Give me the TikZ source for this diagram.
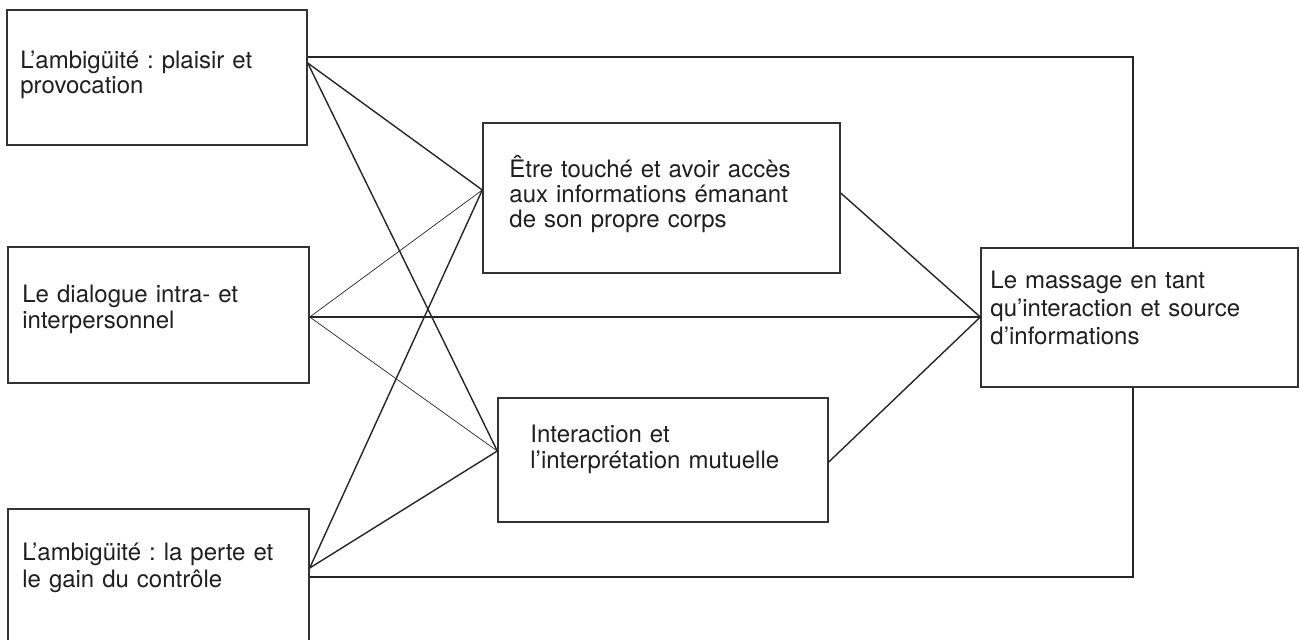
\documentclass[tikz,border=0pt]{standalone}
\usepackage{fontspec}
\setmainfont{TeX Gyre Heros}
\frenchspacing
\begin{document}
\frenchspacing
\begin{tikzpicture}[x=0.5pt,y=-0.5pt,
  box/.style={draw=black!80, line width=0.7pt, inner sep=0pt, rectangle},
  lbl/.style={anchor=base west, inner sep=0pt, text width=#1, align=left, text=black!88},
  link/.style={line width=0.7pt, draw=black!85},
  thinlink/.style={line width=0.35pt, draw=black!85}]
\clip (0,0) rectangle (1300,639);
\fill[white] (0,0) rectangle (1300,639);
% boxes
\node[box, minimum width=150pt, minimum height=67.5pt] (A) at (157,77.5) {};
\node[box, minimum width=150.5pt, minimum height=68pt] (B) at (158.5,315) {};
\node[box, minimum width=150.5pt, minimum height=68pt] (C) at (158.5,577) {};
\node[box, minimum width=178.5pt, minimum height=75pt] (E) at (661.5,198) {};
\node[box, minimum width=165pt, minimum height=62pt] (I) at (663,460) {};
\node[box, minimum width=158.5pt, minimum height=69.5pt] (M) at (1139.5,317.5) {};
% labels
\node[lbl=145pt, font=\fontsize{12}{12.5}\selectfont] (At) at (20,68) {L’ambigüité : plaisir et\\provocation};
\node[lbl=145pt, font=\fontsize{12}{13}\selectfont] (Bt) at (22,302) {Le dialogue intra- et\\interpersonnel};
\node[lbl=145pt, font=\fontsize{12}{13.5}\selectfont] (Ct) at (22,560) {L’ambigüité : la perte et\\le gain du contrôle};
\node[lbl=170pt, font=\fontsize{12}{12.5}\selectfont] (Et) at (509,177) {Être touché et avoir accès\\aux informations émanant\\de son propre corps};
\node[lbl=160pt, font=\fontsize{12}{13}\selectfont] (It) at (530,442) {Interaction et\\l’interprétation mutuelle};
\node[lbl=155pt, font=\fontsize{12}{14}\selectfont] (Mt) at (990,288) {Le massage en tant\\qu’interaction et source\\d’informations};
% junction coordinates
\coordinate (Ah) at (A.east |- 0,57);
\coordinate (Ad) at (A.east |- 0,63);
\coordinate (Bj) at (B.east |- 0,317);
\coordinate (Cd) at (C.east |- 0,568);
\coordinate (Ch) at (C.east |- 0,577);
\coordinate (El) at (E.west |- 0,190);
\coordinate (Er) at (E.east |- 0,193);
\coordinate (Il) at (I.west |- 0,451);
\coordinate (Ir) at (I.east |- 0,462);
\coordinate (Ml) at (M.west |- 0,317);
\coordinate (Mn) at (M.north -| 1133,0);
\coordinate (Ms) at (M.south -| 1133,0);
% connectors
\draw[link] (Ah) -| (Mn);
\draw[link] (Ch) -| (Ms);
\draw[link] (Ad) -- (El);
\draw[link] (Ad) -- (Il);
\draw[thinlink] (Bj) -- (El);
\draw[thinlink] (Bj) -- (Il);
\draw[link] (Bj) -- (Ml);
\draw[link] (Cd) -- (El);
\draw[link] (Cd) -- (Il);
\draw[link] (Er) -- (Ml);
\draw[link] (Ir) -- (Ml);
\end{tikzpicture}
\end{document}
